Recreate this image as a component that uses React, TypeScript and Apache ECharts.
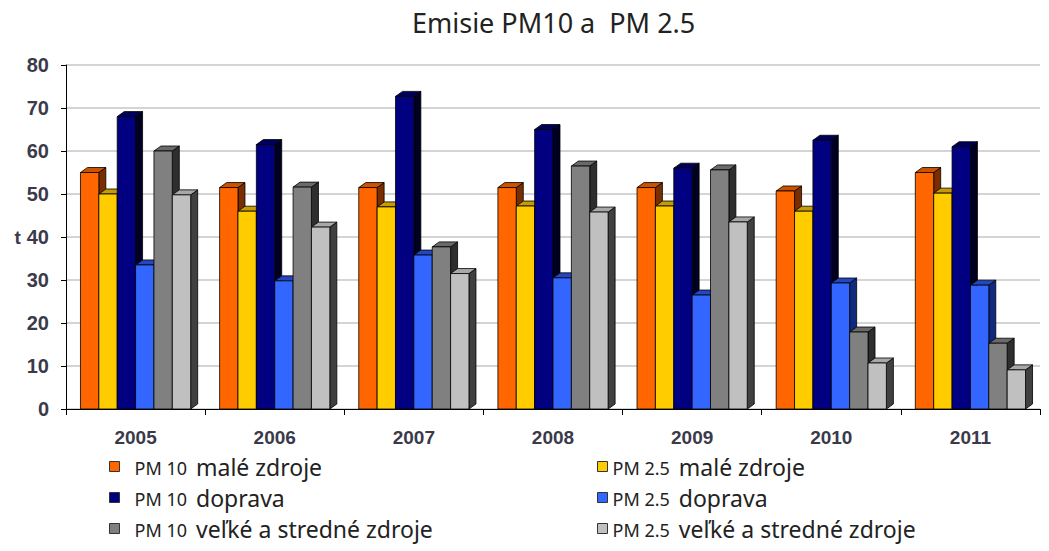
import React, { useEffect, useRef } from "react";
import * as echarts from "echarts";

const years = ["2005", "2006", "2007", "2008", "2009", "2010", "2011"];
const pm10Male = [55, 51.5, 51.5, 51.5, 51.5, 50.7, 55];
const pm25Male = [50, 46, 47, 47.2, 47.2, 46, 50.2];
const pm10Doprava = [68, 61.5, 72.7, 65, 56, 62.5, 61];
const pm25Doprava = [33.5, 29.8, 35.8, 30.5, 26.5, 29.3, 28.8];
const pm10Velke = [60, 51.6, 37.7, 56.5, 55.6, 17.9, 15.3];
const pm25Velke = [49.8, 42.3, 31.5, 45.8, 43.5, 10.7, 9.1];

const seriesNames = [
  "PM 10 malé zdroje",
  "PM 2.5 malé zdroje",
  "PM 10 doprava",
  "PM 2.5 doprava",
  "PM 10 veľké a stredné zdroje",
  "PM 2.5 veľké a stredné zdroje",
];
const seriesData = [pm10Male, pm25Male, pm10Doprava, pm25Doprava, pm10Velke, pm25Velke];
const frontColors = ["#FF6600", "#FFCC00", "#000080", "#3366FF", "#808080", "#C0C0C0"];
const topColors = ["#CC5200", "#C89B00", "#00005A", "#2447C0", "#6A6A6A", "#A8A8A8"];
const sideColors = ["#7A2E00", "#7A6200", "#000020", "#102A80", "#2E2E2E", "#404040"];

export default function App() {
  const ref = useRef<HTMLDivElement>(null);
  useEffect(() => {
    if (!ref.current) return;
    const chart = echarts.init(ref.current, null, { renderer: "svg" });
    const dx = 7;
    const dy = 5;
    const makeRender = (idx: number) => (params: any, api: any) => {
      const cat = api.value(0);
      const val = api.value(1);
      const base = api.coord([cat, 0]);
      const top = api.coord([cat, val]);
      const bandW = api.size([1, 0])[0];
      const barW = bandW * 0.132;
      const x0 = base[0] - 3 * barW + idx * barW;
      const x1 = x0 + barW;
      const ty = top[1];
      const by = base[1];
      return {
        type: "group",
        children: [
          {
            type: "polygon",
            shape: { points: [[x1, ty], [x1 + dx, ty - dy], [x1 + dx, by - dy], [x1, by]] },
            style: { fill: sideColors[idx], stroke: "#000", lineWidth: 0.8 },
          },
          {
            type: "polygon",
            shape: { points: [[x0, ty], [x0 + dx, ty - dy], [x1 + dx, ty - dy], [x1, ty]] },
            style: { fill: topColors[idx], stroke: "#000", lineWidth: 0.8 },
          },
          {
            type: "rect",
            shape: { x: x0, y: ty, width: barW, height: by - ty },
            style: { fill: frontColors[idx], stroke: "#000", lineWidth: 0.8 },
          },
        ],
      };
    };

    const legendFormatter = (name: string) => {
      const m = name.match(/^(PM [0-9.]+)\s+(.*)$/);
      if (!m) return name;
      return "{a|" + m[1] + "}{b|" + m[2] + "}";
    };
    const mkLegendText = (padLeft: number) => ({
      color: "#222",
      rich: {
        a: { fontSize: 18, fontFamily: "Noto Sans", color: "#222", padding: [2, 9, 0, padLeft], lineHeight: 24 },
        b: { fontSize: 23, fontFamily: "Noto Sans", color: "#222", lineHeight: 24 },
      },
    });

    chart.setOption({
      animation: false,
      backgroundColor: "#fff",
      title: {
        text: "Emisie PM10 a  PM 2.5",
        left: 407,
        top: 4,
        textStyle: { fontFamily: "Noto Sans", fontSize: 27, fontWeight: "normal", color: "#222" },
      },
      legend: [
        {
          orient: "vertical",
          left: 104,
          top: 450,
          itemWidth: 10,
          itemHeight: 10,
          itemGap: 8,
          icon: "rect",
          data: [seriesNames[0], seriesNames[2], seriesNames[4]],
          formatter: legendFormatter,
          textStyle: mkLegendText(10),
          itemStyle: { borderColor: "#333", borderWidth: 1 },
        },
        {
          orient: "vertical",
          left: 592,
          top: 450,
          itemWidth: 10,
          itemHeight: 10,
          itemGap: 8,
          icon: "rect",
          data: [seriesNames[1], seriesNames[3], seriesNames[5]],
          formatter: legendFormatter,
          textStyle: mkLegendText(0),
          itemStyle: { borderColor: "#333", borderWidth: 1 },
        },
      ],
      grid: { left: 66, right: 9, top: 65, bottom: 142, containLabel: false },
      xAxis: {
        type: "category",
        data: years,
        axisLine: { lineStyle: { color: "#000", width: 1 } },
        axisTick: { show: true, alignWithLabel: false, length: 6, lineStyle: { color: "#000" } },
        axisLabel: {
          margin: 19,
          fontFamily: "Arial",
          fontWeight: "bold",
          fontSize: 19,
          color: "#3a3a4a",
        },
      },
      yAxis: {
        type: "value",
        min: 0,
        max: 80,
        interval: 10,
        name: "t",
        nameLocation: "middle",
        nameRotate: 0,
        nameGap: 33,
        nameTextStyle: { fontFamily: "Arial", fontWeight: "bold", fontSize: 19, color: "#3a3a4a" },
        axisLine: { show: true, lineStyle: { color: "#000" } },
        axisTick: { show: true, length: 5, lineStyle: { color: "#000" } },
        axisLabel: { margin: 17, fontFamily: "Arial", fontWeight: "bold", fontSize: 20, color: "#3a3a4a" },
        splitLine: { show: true, lineStyle: { color: "#d4d4d4", width: 2 } },
      },
      series: seriesNames.map((name, idx) => ({
        name,
        type: "custom",
        renderItem: makeRender(idx),
        itemStyle: { color: frontColors[idx] },
        encode: { x: 0, y: 1 },
        data: seriesData[idx].map((v, i) => [i, v]),
      })),
    });
    return () => chart.dispose();
  }, []);
  return <div ref={ref} style={{ width: 1049, height: 551, position: "absolute", left: 0, top: 0 }} />;
}
